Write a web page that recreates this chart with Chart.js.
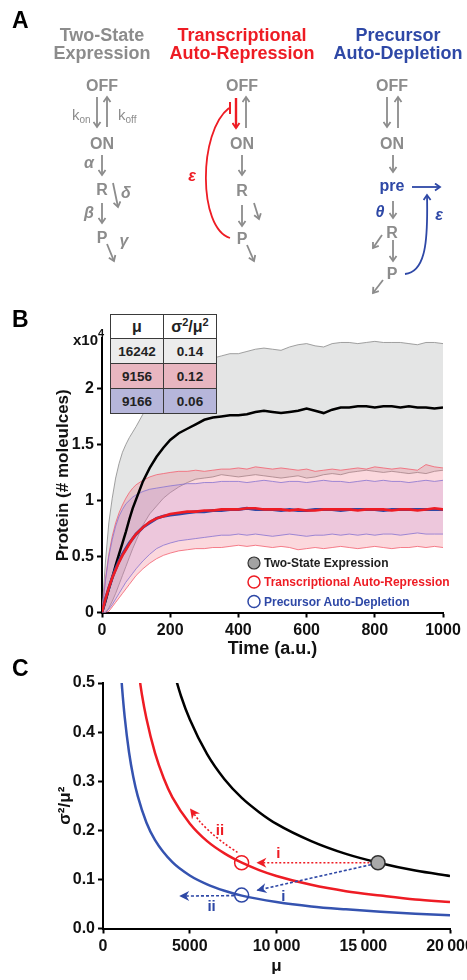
<!DOCTYPE html>
<html>
<head>
<meta charset="utf-8">
<script src="https://cdn.jsdelivr.net/npm/chart.js@4.4.1/dist/chart.umd.min.js"></script>
<style>
  html, body { margin: 0; padding: 0; background: #fff; }
  #page { position: relative; width: 467px; height: 980px; overflow: hidden; font-family: "Liberation Sans", Arial, sans-serif; }
  canvas { position: absolute; left: 0; }
  #chartB { top: 300px; }
  #chartC { top: 650px; }
  #overlay { position: absolute; left: 0; top: 0; pointer-events: none; }
  #tbl { position: absolute; left: 110px; top: 314px; border-collapse: collapse; font-weight: bold; color: #222; z-index: 5; }
  #tbl td { border: 1.5px solid #3a3a3a; text-align: center; padding: 0; font-size: 13.5px; }
  #tbl tr.head td { height: 23px; font-size: 16px; background: #fff; }
  #tbl tr.r td { height: 24px; }
  .g { fill: #8c8c8c; }
  .n { font: bold 16px "Liberation Sans", Arial, sans-serif; text-anchor: middle; }
  .gk { font: italic bold 16px "Liberation Sans", Arial, sans-serif; text-anchor: middle; }
  .ttl { font: bold 18px "Liberation Sans", Arial, sans-serif; text-anchor: middle; }
  .lg { font: bold 12px "Liberation Sans", Arial, sans-serif; }
</style>
</head>
<body>
<div id="page">
  <canvas id="chartB" width="467" height="380"></canvas>
  <canvas id="chartC" width="467" height="330"></canvas>

  <svg id="overlay" width="467" height="980">
    <defs>
      <marker id="hg" markerUnits="userSpaceOnUse" markerWidth="9" markerHeight="9" refX="6" refY="4.5" orient="auto">
        <path d="M1,1 L6,4.5 L1,8" fill="none" stroke="#8c8c8c" stroke-width="1.8"/>
      </marker>
      <marker id="hr" markerUnits="userSpaceOnUse" markerWidth="9" markerHeight="9" refX="6" refY="4.5" orient="auto">
        <path d="M1,1 L6,4.5 L1,8" fill="none" stroke="#ee1c24" stroke-width="2"/>
      </marker>
      <marker id="hb" markerUnits="userSpaceOnUse" markerWidth="9" markerHeight="9" refX="6" refY="4.5" orient="auto">
        <path d="M1,1 L6,4.5 L1,8" fill="none" stroke="#2e48a6" stroke-width="1.8"/>
      </marker>
    </defs>

    <!-- panel letters -->
    <text x="12" y="28" style="font:bold 23px 'Liberation Sans',Arial,sans-serif">A</text>
    <text x="12" y="327" style="font:bold 23px 'Liberation Sans',Arial,sans-serif">B</text>
    <text x="12" y="676" style="font:bold 23px 'Liberation Sans',Arial,sans-serif">C</text>

    <!-- panel A titles -->
    <text class="ttl" x="102" y="41" fill="#8c8c8c">Two-State</text>
    <text class="ttl" x="102" y="59" fill="#8c8c8c">Expression</text>
    <text class="ttl" x="242" y="41" fill="#ee1c24">Transcriptional</text>
    <text class="ttl" x="242" y="59" fill="#ee1c24">Auto-Repression</text>
    <text class="ttl" x="398" y="41" fill="#2e48a6">Precursor</text>
    <text class="ttl" x="398" y="59" fill="#2e48a6">Auto-Depletion</text>

    <!-- two-state -->
    <g stroke="#8c8c8c" stroke-width="1.8" fill="none" marker-end="url(#hg)">
      <line x1="97" y1="97" x2="97" y2="127"/>
      <line x1="107" y1="127" x2="107" y2="97"/>
      <line x1="102" y1="155" x2="102" y2="175"/>
      <line x1="113" y1="183" x2="118" y2="207"/>
      <line x1="102" y1="203" x2="102" y2="223"/>
      <line x1="107" y1="244" x2="114" y2="261"/>
    </g>
    <text class="n g" x="102" y="91">OFF</text>
    <text class="g" x="72" y="120" style="font:15px 'Liberation Sans',Arial,sans-serif">k<tspan font-size="10" dy="3">on</tspan></text>
    <text class="g" x="118" y="120" style="font:15px 'Liberation Sans',Arial,sans-serif">k<tspan font-size="10" dy="3">off</tspan></text>
    <text class="n g" x="102" y="149">ON</text>
    <text class="gk g" x="89" y="168">α</text>
    <text class="n g" x="102" y="195">R</text>
    <text class="gk g" x="126" y="198">δ</text>
    <text class="gk g" x="89" y="218">β</text>
    <text class="n g" x="102" y="243">P</text>
    <text class="gk g" x="124" y="246">γ</text>

    <!-- auto-repression -->
    <g stroke="#8c8c8c" stroke-width="1.8" fill="none" marker-end="url(#hg)">
      <line x1="246" y1="128" x2="246" y2="97"/>
      <line x1="242" y1="155" x2="242" y2="175"/>
      <line x1="242" y1="205" x2="242" y2="226"/>
      <line x1="254" y1="203" x2="259" y2="219"/>
      <line x1="247" y1="245" x2="254" y2="261"/>
    </g>
    <line x1="236" y1="98" x2="236" y2="128" stroke="#ee1c24" stroke-width="2.4" marker-end="url(#hr)"/>
    <path d="M230,238 C198,228 198,132 229,108" stroke="#ee1c24" stroke-width="1.8" fill="none"/>
    <line x1="230" y1="102" x2="230" y2="114" stroke="#ee1c24" stroke-width="2"/>
    <text class="gk" x="192" y="181" fill="#ee1c24">ε</text>
    <text class="n g" x="242" y="91">OFF</text>
    <text class="n g" x="242" y="149">ON</text>
    <text class="n g" x="242" y="196">R</text>
    <text class="n g" x="242" y="244">P</text>

    <!-- precursor auto-depletion -->
    <g stroke="#8c8c8c" stroke-width="1.8" fill="none" marker-end="url(#hg)">
      <line x1="387" y1="97" x2="387" y2="127"/>
      <line x1="398" y1="128" x2="398" y2="97"/>
      <line x1="393" y1="155" x2="393" y2="172"/>
      <line x1="393" y1="201" x2="393" y2="218"/>
      <line x1="382" y1="235" x2="373" y2="248"/>
      <line x1="393" y1="240" x2="393" y2="261"/>
      <line x1="383" y1="280" x2="373" y2="293"/>
    </g>
    <line x1="412" y1="187" x2="440" y2="187" stroke="#2e48a6" stroke-width="1.8" marker-end="url(#hb)"/>
    <path d="M405,274 C426,272 428,240 427,195" stroke="#2e48a6" stroke-width="1.8" fill="none" marker-end="url(#hb)"/>
    <text class="n g" x="392" y="91">OFF</text>
    <text class="n g" x="392" y="149">ON</text>
    <text class="n" x="392" y="191" fill="#2e48a6">pre</text>
    <text class="gk" x="380" y="217" fill="#2e48a6">θ</text>
    <text class="gk" x="439" y="220" fill="#2e48a6">ε</text>
    <text class="n g" x="392" y="238">R</text>
    <text class="n g" x="392" y="279">P</text>

    <!-- panel B legend -->
    <circle cx="254" cy="563" r="6" fill="#a3a3a3" stroke="#333" stroke-width="1.2"/>
    <circle cx="254" cy="582" r="6" fill="none" stroke="#ee1c24" stroke-width="1.5"/>
    <circle cx="254" cy="601.5" r="6" fill="none" stroke="#2e48a6" stroke-width="1.5"/>
    <text class="lg" x="264" y="567" fill="#222">Two-State Expression</text>
    <text class="lg" x="264" y="586" fill="#ee1c24">Transcriptional Auto-Repression</text>
    <text class="lg" x="264" y="605.5" fill="#2e48a6">Precursor Auto-Depletion</text>
  </svg>

  <table id="tbl"></table>
</div>

<script>
// ---- panel B: protein (x10^4 molecules) over time ----
const timeB = [0,10,20,30,40,50,60,70,80,90,100,120,140,160,180,200,
  225,250,275,300,325,350,375,400,425,450,475,500,525,550,575,600,
  625,650,675,700,725,750,775,800,825,850,875,900,925,950,975,1000];

const twoStateMean = [0,0.10,0.21,0.31,0.42,0.52,0.62,0.72,0.83,0.93,1.01,
  1.17,1.29,1.39,1.47,1.54,
  1.60,1.64,1.68,1.72,1.74,1.75,1.76,1.76,1.77,1.79,1.80,1.79,1.78,1.79,1.80,1.82,
  1.80,1.78,1.81,1.83,1.83,1.84,1.84,1.83,1.84,1.84,1.83,1.84,1.83,1.83,1.82,1.83];
const twoStateUpper = [0,0.45,0.80,1.02,1.20,1.33,1.43,1.50,1.56,1.61,1.66,
  1.77,1.86,1.94,2.01,2.07,
  2.13,2.18,2.22,2.25,2.27,2.29,2.31,2.31,2.33,2.35,2.36,2.35,2.34,2.37,2.39,2.40,
  2.38,2.37,2.40,2.41,2.41,2.40,2.41,2.42,2.41,2.41,2.41,2.40,2.39,2.41,2.41,2.40];
const twoStateLower = [0,0,0.04,0.10,0.17,0.25,0.33,0.41,0.49,0.57,0.64,
  0.78,0.88,0.95,1.02,1.07,
  1.12,1.16,1.19,1.20,1.21,1.23,1.22,1.21,1.22,1.23,1.22,1.21,1.20,1.21,1.22,1.20,
  1.21,1.23,1.24,1.23,1.25,1.26,1.27,1.26,1.25,1.26,1.25,1.24,1.25,1.24,1.26,1.27];

const repressionMean = [0,0.12,0.22,0.31,0.38,0.45,0.51,0.56,0.61,0.66,0.70,
  0.76,0.81,0.84,0.86,0.88,
  0.89,0.90,0.90,0.91,0.91,0.92,0.92,0.92,0.93,0.93,0.92,0.92,0.92,0.91,0.92,0.91,
  0.91,0.92,0.92,0.92,0.92,0.91,0.92,0.92,0.92,0.91,0.92,0.92,0.91,0.92,0.93,0.92];
const repressionUpper = [0,0.30,0.52,0.68,0.80,0.89,0.96,1.02,1.07,1.11,1.14,
  1.18,1.21,1.23,1.24,1.25,
  1.26,1.26,1.27,1.26,1.27,1.28,1.28,1.29,1.28,1.30,1.29,1.28,1.29,1.28,1.27,1.28,
  1.26,1.27,1.28,1.27,1.28,1.29,1.28,1.30,1.29,1.28,1.29,1.28,1.27,1.32,1.30,1.29];
const repressionLower = [0,0,0.01,0.05,0.09,0.13,0.17,0.21,0.25,0.29,0.33,
  0.39,0.44,0.48,0.51,0.53,
  0.55,0.56,0.57,0.57,0.58,0.58,0.59,0.60,0.59,0.60,0.59,0.58,0.59,0.58,0.56,0.57,
  0.58,0.57,0.58,0.59,0.58,0.57,0.58,0.59,0.58,0.57,0.58,0.58,0.59,0.58,0.59,0.58];

const depletionMean = [0,0.12,0.22,0.31,0.39,0.46,0.52,0.57,0.62,0.66,0.70,
  0.76,0.80,0.84,0.86,0.87,
  0.88,0.89,0.90,0.90,0.91,0.91,0.92,0.92,0.93,0.92,0.92,0.92,0.91,0.92,0.91,0.91,
  0.92,0.92,0.92,0.91,0.92,0.92,0.92,0.92,0.91,0.92,0.92,0.92,0.92,0.92,0.92,0.92];
const depletionUpper = [0,0.28,0.50,0.65,0.77,0.86,0.92,0.97,1.00,1.03,1.05,
  1.08,1.10,1.11,1.12,1.13,
  1.14,1.15,1.15,1.16,1.16,1.17,1.17,1.17,1.16,1.17,1.18,1.17,1.16,1.17,1.17,1.16,
  1.17,1.18,1.17,1.17,1.16,1.17,1.18,1.17,1.18,1.17,1.17,1.16,1.17,1.18,1.17,1.18];
const depletionLower = [0,0,0.03,0.07,0.12,0.17,0.22,0.27,0.31,0.35,0.39,
  0.46,0.52,0.57,0.60,0.62,
  0.64,0.65,0.66,0.67,0.68,0.69,0.69,0.70,0.69,0.70,0.69,0.68,0.69,0.70,0.69,0.68,
  0.69,0.69,0.70,0.69,0.70,0.69,0.70,0.69,0.70,0.70,0.69,0.70,0.71,0.70,0.70,0.70];

const timeTicksB = [0,200,400,600,800,1000];
const proteinTicksB = [0,0.5,1,1.5,2];
const proteinTickLabelsB = ['0','0.5','1','1.5','2'];

// inset table
const tableMu = ['16242','9156','9166'];
const tableCv = ['0.14','0.12','0.06'];

// ---- panel C: noise vs mean ----
const muTwoState = [4000,4500,5000,6000,7000,8000,9000,10000,12000,14000,16000,18000,20000];
const cvTwoState = [0.533,0.473,0.426,0.355,0.304,0.266,0.237,0.213,0.178,0.152,0.133,0.118,0.107];
const muRepression = [2000,2250,2500,3000,3500,4000,5000,6000,7000,8000,9000,10000,12000,14000,16000,18000,20000];
const cvRepression = [0.535,0.475,0.428,0.357,0.306,0.267,0.214,0.178,0.153,0.134,0.119,0.107,0.089,0.076,0.067,0.059,0.054];
const muDepletion = [1000,1100,1250,1500,1750,2000,2500,3000,4000,5000,6000,7000,8000,10000,12000,14000,16000,18000,20000];
const cvDepletion = [0.539,0.49,0.431,0.359,0.308,0.27,0.216,0.18,0.135,0.108,0.09,0.077,0.067,0.054,0.045,0.039,0.034,0.030,0.027];

const pointTwoState = [15850, 0.134];
const pointRepression = [7990, 0.134];
const pointDepletion = [7990, 0.068];

const arrowRepressionI = [[15350, 0.134], [8900, 0.134]];
const arrowDepletionI = [[15450, 0.130], [8900, 0.078]];
const arrowRepressionII = [[7750, 0.155], [7000, 0.173], [6300, 0.193], [5600, 0.217], [5050, 0.243]];
const arrowDepletionII = [[7550, 0.067], [4450, 0.066]];

const muTicksC = [0,5000,10000,15000,20000];
const muTickLabelsC = ['0','5000','10\u2009000','15\u2009000','20\u2009000'];
const cvTicksC = [0,0.1,0.2,0.3,0.4,0.5];
const cvTickLabelsC = ['0.0','0.1','0.2','0.3','0.4','0.5'];

const arrowNotes = [['i', 10100, 0.153], ['i', 10400, 0.064], ['ii', 6740, 0.198], ['ii', 6260, 0.044]];

// ---------------------------------------------------------------
const RED = '#ee1c24';
const BLUE = '#2e48a6';
const FONT = '"Liberation Sans", Arial, sans-serif';
Chart.defaults.font.family = FONT;
Chart.defaults.color = '#111';

// inset table built from the arrays
const tbl = document.getElementById('tbl');
tbl.innerHTML = '<tr class="head"><td style="width:52px">μ</td><td style="width:52px">σ<sup style="font-size:11px">2</sup>/μ<sup style="font-size:11px">2</sup></td></tr>';
const rowColors = ['#ececec', '#e8b6c0', '#b6b6da'];
tableMu.forEach((m, i) => {
  tbl.innerHTML += '<tr class="r" style="background:' + rowColors[i] + '"><td>' + m + '</td><td>' + tableCv[i] + '</td></tr>';
});

function pts(xs, ys) { return xs.map((x, i) => ({x: x, y: ys[i]})); }

function axisStyle(ticks, labels, extra) {
  return Object.assign({
    type: 'linear',
    afterBuildTicks: s => { s.ticks = ticks.map(v => ({value: v})); },
    ticks: {
      callback: (v, i) => labels[i],
      font: {size: 16, weight: 'bold'},
      color: '#111',
      padding: 3,
      maxRotation: 0,
      autoSkip: false
    },
    grid: {drawOnChartArea: false, tickLength: 5, tickWidth: 2, tickColor: '#000'},
    border: {color: '#000', width: 2}
  }, extra);
}

// "x10^4" label on top of the protein axis
const sciLabel = {
  id: 'sciLabel',
  afterDraw(chart) {
    const {ctx, chartArea} = chart;
    ctx.save();
    ctx.fillStyle = '#111';
    ctx.font = 'bold 15px ' + FONT;
    ctx.textAlign = 'right';
    ctx.fillText('x10', chartArea.left - 4, chartArea.top + 7);
    ctx.font = 'bold 11px ' + FONT;
    ctx.textAlign = 'left';
    ctx.fillText('4', chartArea.left - 4, chartArea.top - 1);
    ctx.restore();
  }
};

// band helper: upper line fills down to the next dataset
function band(upper, lower, edge, fillColor, order) {
  return [
    {data: pts(timeB, upper), borderColor: edge, borderWidth: 0.8, backgroundColor: fillColor, fill: '+1', order: order + 1},
    {data: pts(timeB, lower), borderColor: edge, borderWidth: 0.8, fill: false, order: order}
  ];
}

new Chart(document.getElementById('chartB'), {
  type: 'line',
  data: {
    datasets: [
      ...band(twoStateUpper, twoStateLower, '#8a8a8a', '#e4e5e5', 8),
      ...band(repressionUpper, repressionLower, '#f2606e', 'rgba(240,110,130,0.27)', 6),
      ...band(depletionUpper, depletionLower, '#8672d0', 'rgba(170,120,215,0.18)', 4),
      {data: pts(timeB, twoStateMean), borderColor: '#000', borderWidth: 2.5, fill: false, order: 3},
      {data: pts(timeB, depletionMean), borderColor: BLUE, borderWidth: 3, fill: false, order: 2},
      {data: pts(timeB, repressionMean), borderColor: RED, borderWidth: 2.6, fill: false, order: 1}
    ]
  },
  options: {
    responsive: false,
    animation: false,
    layout: {padding: {left: 49, right: 24, top: 38, bottom: 16}},
    elements: {point: {radius: 0}, line: {tension: 0}},
    plugins: {legend: {display: false}, tooltip: {enabled: false}},
    scales: {
      x: axisStyle(timeTicksB, timeTicksB.map(String), {
        min: 0, max: 1000,
        afterFit: s => { s.height = 51.5; },
        title: {display: true, text: 'Time (a.u.)', font: {size: 18, weight: 'bold'}, color: '#111', padding: {top: 0, bottom: 4}}
      }),
      y: axisStyle(proteinTicksB, proteinTickLabelsB, {
        min: 0, max: 2.45,
        afterFit: s => { s.width = 53; },
        title: {display: true, text: 'Protein (# moleulces)', font: {size: 17, weight: 'bold'}, color: '#111', padding: {top: 4, bottom: 4}}
      })
    }
  },
  plugins: [sciLabel]
});

// arrow heads at the end of arrow datasets, plus the i / ii notes
const arrowDeco = {
  id: 'arrowDeco',
  afterDatasetsDraw(chart) {
    const {ctx, scales} = chart;
    ctx.save();
    chart.data.datasets.forEach((ds, i) => {
      if (!ds.arrow) return;
      const p = chart.getDatasetMeta(i).data;
      const a = p[p.length - 2], b = p[p.length - 1];
      const ang = Math.atan2(b.y - a.y, b.x - a.x);
      ctx.save();
      ctx.translate(b.x, b.y);
      ctx.rotate(ang);
      ctx.fillStyle = ds.borderColor;
      ctx.beginPath();
      ctx.moveTo(1, 0);
      ctx.lineTo(-9, -5);
      ctx.lineTo(-6, 0);
      ctx.lineTo(-9, 5);
      ctx.closePath();
      ctx.fill();
      ctx.restore();
    });
    ctx.font = 'bold 15px ' + FONT;
    ctx.textAlign = 'center';
    ctx.textBaseline = 'middle';
    const noteColors = [RED, BLUE, RED, BLUE];
    arrowNotes.forEach((n, i) => {
      ctx.fillStyle = noteColors[i];
      ctx.fillText(n[0], scales.x.getPixelForValue(n[1]), scales.y.getPixelForValue(n[2]));
    });
    ctx.restore();
  }
};

function arrowSet(list, color, dash) {
  return {
    data: list.map(p => ({x: p[0], y: p[1]})),
    showLine: true, arrow: true, borderColor: color, borderWidth: 1.6,
    borderDash: dash, pointRadius: 0, tension: 0.3, order: 2
  };
}
function marker(p, fill, edge) {
  return {data: [{x: p[0], y: p[1]}], pointRadius: 7, pointBackgroundColor: fill,
    pointBorderColor: edge, pointBorderWidth: 1.5, showLine: false, order: 0};
}
function curve(xs, ys, color) {
  return {data: pts(xs, ys), showLine: true, borderColor: color, borderWidth: 2.5,
    pointRadius: 0, cubicInterpolationMode: 'monotone', order: 3};
}

new Chart(document.getElementById('chartC'), {
  type: 'scatter',
  data: {
    datasets: [
      marker(pointTwoState, '#a9a9a9', '#333'),
      marker(pointRepression, 'rgba(0,0,0,0)', RED),
      marker(pointDepletion, 'rgba(0,0,0,0)', BLUE),
      arrowSet(arrowRepressionI, RED, [2, 2]),
      arrowSet(arrowDepletionI, BLUE, [3, 2]),
      arrowSet(arrowRepressionII, RED, [2, 2]),
      arrowSet(arrowDepletionII, BLUE, [3, 2]),
      curve(muTwoState, cvTwoState, '#000'),
      curve(muRepression, cvRepression, RED),
      curve(muDepletion, cvDepletion, '#3553b0')
    ]
  },
  options: {
    responsive: false,
    animation: false,
    layout: {padding: {left: 51, right: 17, top: 33, bottom: 2}},
    plugins: {legend: {display: false}, tooltip: {enabled: false}},
    scales: {
      x: axisStyle(muTicksC, muTickLabelsC, {
        min: 0, max: 20000,
        afterFit: s => { s.height = 49.5; s.paddingRight = 0; s.paddingLeft = 0; },
        title: {display: true, text: 'μ', font: {size: 17, weight: 'bold'}, color: '#111', padding: {top: 0, bottom: 1}}
      }),
      y: axisStyle(cvTicksC, cvTickLabelsC, {
        min: 0, max: 0.5,
        afterFit: s => { s.width = 52; },
        title: {display: true, text: 'σ²/μ²', font: {size: 17, weight: 'bold'}, color: '#111', padding: {top: 4, bottom: 4}}
      })
    }
  },
  plugins: [arrowDeco]
});
</script>
</body>
</html>
